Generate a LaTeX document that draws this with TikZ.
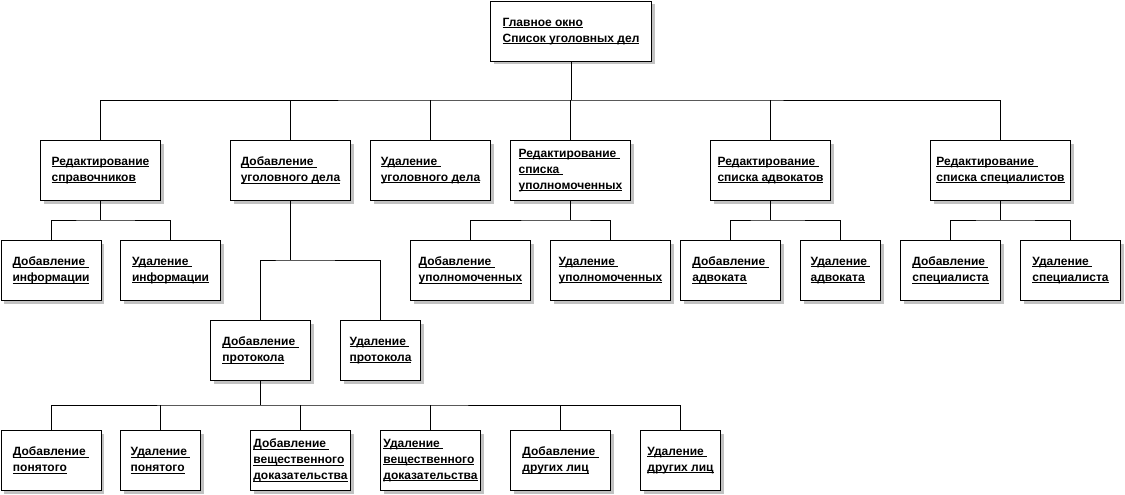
\documentclass[tikz,border=0pt]{standalone}
\usepackage{fontspec}
\setmainfont{Liberation Sans}
\usetikzlibrary{shadows}
\newcommand\uln[1]{\setbox0\hbox{#1}\rlap{\rule[-2pt]{\wd0}{1pt}}\box0}
\tikzset{
  box/.style={draw, line width=1pt, fill=white, inner sep=0pt, anchor=north west,
    minimum height=60pt, align=left, font=\fontsize{12}{16}\selectfont\bfseries,
    drop shadow={shadow xshift=3pt, shadow yshift=-3pt, fill=black!24, opacity=1}},
  link/.style={line width=1pt, draw=black}
}
\begin{document}
\begin{tikzpicture}[x=1pt,y=-1pt]
\fill[white] (0,0) rectangle (1125,495);
\useasboundingbox (0,0) rectangle (1125,495);
% top
\node[box, minimum width=161pt] (main) at (490,1) {\uln{Главное окно}\\\uln{Список уголовных дел}};
% level 1
\node[box, minimum width=120pt] (r1) at (40,140) {\uln{Редактирование}\\\uln{справочников}};
\node[box, minimum width=120pt] (r2) at (230,140) {\uln{Добавление }\\\uln{уголовного дела}};
\node[box, minimum width=120pt] (r3) at (370,140) {\uln{Удаление }\\\uln{уголовного дела}};
\node[box, minimum width=120pt] (r4) at (510,140) {\uln{Редактирование }\\\uln{списка }\\\uln{уполномоченных}};
\node[box, minimum width=120pt] (r5) at (710,140) {\uln{Редактирование }\\\uln{списка адвокатов}};
\node[box, minimum width=140pt] (r6) at (930,140) {\uln{Редактирование }\\\uln{списка специалистов}};
% level 2
\node[box, minimum width=100pt] (a1) at (0.5,240) {\uln{Добавление }\\\uln{информации}};
\node[box, minimum width=100pt] (a2) at (120,240) {\uln{Удаление }\\\uln{информации}};
\node[box, minimum width=120pt] (c1) at (410,240) {\uln{Добавление }\\\uln{уполномоченных}};
\node[box, minimum width=120pt] (c2) at (550,240) {\uln{Удаление }\\\uln{уполномоченных}};
\node[box, minimum width=100pt] (d1) at (680,240) {\uln{Добавление }\\\uln{адвоката}};
\node[box, minimum width=80pt] (d2) at (800,240) {\uln{Удаление }\\\uln{адвоката}};
\node[box, minimum width=100pt] (e1) at (900,240) {\uln{Добавление }\\\uln{специалиста}};
\node[box, minimum width=100pt] (e2) at (1020,240) {\uln{Удаление }\\\uln{специалиста}};
% protocol level
\node[box, minimum width=100pt] (p1) at (210,320) {\uln{Добавление }\\\uln{протокола}};
\node[box, minimum width=80pt] (p2) at (340,320) {\uln{Удаление }\\\uln{протокола}};
% level 4
\node[box, minimum width=100pt] (q1) at (0.5,430) {\uln{Добавление }\\\uln{понятого}};
\node[box, minimum width=80pt] (q2) at (120,430) {\uln{Удаление }\\\uln{понятого}};
\node[box, minimum width=100pt] (q3) at (250,430) {\uln{Добавление }\\\uln{вещественного}\\\uln{доказательства}};
\node[box, minimum width=100pt] (q4) at (380,430) {\uln{Удаление }\\\uln{вещественного}\\\uln{доказательства}};
\node[box, minimum width=100pt] (q5) at (510,430) {\uln{Добавление }\\\uln{других лиц}};
\node[box, minimum width=80pt] (q6) at (640,430) {\uln{Удаление }\\\uln{других лиц}};
% bus levels
\coordinate (b0) at (0,100);
\coordinate (b1) at (0,220);
\coordinate (b2) at (0,260);
\coordinate (b3) at (0,405);
% connectors level 1
\draw[link] (main.south) -- (main.south |- b0);
\draw[link] (r1.north) |- (main.south |- b0) -| (r6.north);
\foreach \n in {r2,r3,r4,r5} \draw[link] (\n.north) -- (\n.north |- b0);
% level 2 groups
\draw[link] (r1.south) -- (r1.south |- b1);
\draw[link] (a1.north) |- (r1.south |- b1) -| (a2.north);
\draw[link] (r4.south) -- (r4.south |- b1);
\draw[link] (c1.north) |- (r4.south |- b1) -| (c2.north);
\draw[link] (r5.south) -- (r5.south |- b1);
\draw[link] (d1.north) |- (r5.south |- b1) -| (d2.north);
\draw[link] (r6.south) -- (r6.south |- b1);
\draw[link] (e1.north) |- (r6.south |- b1) -| (e2.north);
% protocol
\draw[link] (r2.south) -- (r2.south |- b2);
\draw[link] (p1.north) |- (r2.south |- b2) -| (p2.north);
% level 4
\draw[link] (p1.south) -- (p1.south |- b3);
\draw[link] (q1.north) |- (p1.south |- b3) -| (q6.north);
\foreach \n in {q2,q3,q4,q5} \draw[link] (\n.north) -- (\n.north |- b3);
\end{tikzpicture}
\end{document}
